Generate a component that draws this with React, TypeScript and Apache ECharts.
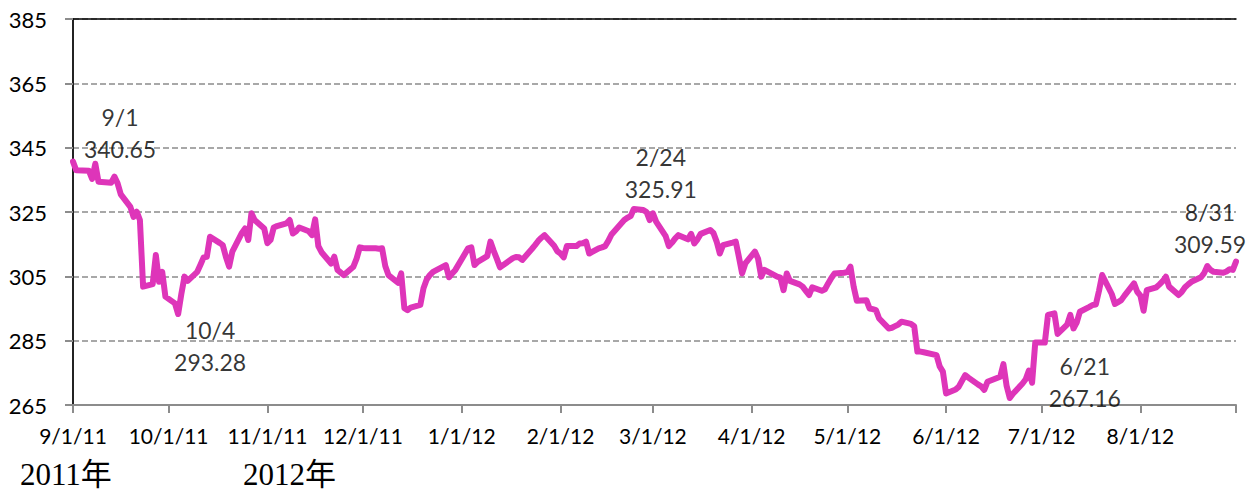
import React, { useEffect, useRef } from "react";
import * as echarts from "echarts";

// ---- data ----
const dates: string[] = [
  "2011-09-01","2011-09-02","2011-09-06","2011-09-07","2011-09-08","2011-09-09","2011-09-12","2011-09-13","2011-09-14","2011-09-15",
  "2011-09-16","2011-09-19","2011-09-20","2011-09-21","2011-09-22","2011-09-23","2011-09-26","2011-09-27","2011-09-28","2011-09-29",
  "2011-09-30","2011-10-03","2011-10-04","2011-10-05","2011-10-06","2011-10-07","2011-10-10","2011-10-11","2011-10-12","2011-10-13",
  "2011-10-14","2011-10-17","2011-10-18","2011-10-19","2011-10-20","2011-10-21","2011-10-24","2011-10-25","2011-10-26","2011-10-27",
  "2011-10-28","2011-10-31","2011-11-01","2011-11-02","2011-11-03","2011-11-04","2011-11-07","2011-11-08","2011-11-09","2011-11-10",
  "2011-11-11","2011-11-14","2011-11-15","2011-11-16","2011-11-17","2011-11-18","2011-11-21","2011-11-22","2011-11-23","2011-11-25",
  "2011-11-28","2011-11-29","2011-11-30","2011-12-01","2011-12-02","2011-12-05","2011-12-06","2011-12-07","2011-12-08","2011-12-09",
  "2011-12-12","2011-12-13","2011-12-14","2011-12-15","2011-12-16","2011-12-19","2011-12-20","2011-12-21","2011-12-22","2011-12-23",
  "2011-12-27","2011-12-28","2011-12-29","2011-12-30","2012-01-03","2012-01-04","2012-01-05","2012-01-06","2012-01-09","2012-01-10",
  "2012-01-11","2012-01-12","2012-01-13","2012-01-17","2012-01-18","2012-01-19","2012-01-20","2012-01-23","2012-01-24","2012-01-25",
  "2012-01-26","2012-01-27","2012-01-30","2012-01-31","2012-02-01","2012-02-02","2012-02-03","2012-02-06","2012-02-07","2012-02-08",
  "2012-02-09","2012-02-10","2012-02-13","2012-02-14","2012-02-15","2012-02-16","2012-02-17","2012-02-21","2012-02-22","2012-02-23",
  "2012-02-24","2012-02-27","2012-02-28","2012-02-29","2012-03-01","2012-03-02","2012-03-05","2012-03-06","2012-03-07","2012-03-08",
  "2012-03-09","2012-03-12","2012-03-13","2012-03-14","2012-03-15","2012-03-16","2012-03-19","2012-03-20","2012-03-21","2012-03-22",
  "2012-03-23","2012-03-26","2012-03-27","2012-03-28","2012-03-29","2012-03-30","2012-04-02","2012-04-03","2012-04-04","2012-04-05",
  "2012-04-09","2012-04-10","2012-04-11","2012-04-12","2012-04-13","2012-04-16","2012-04-17","2012-04-18","2012-04-19","2012-04-20",
  "2012-04-23","2012-04-24","2012-04-25","2012-04-26","2012-04-27","2012-04-30","2012-05-01","2012-05-02","2012-05-03","2012-05-04",
  "2012-05-07","2012-05-08","2012-05-09","2012-05-10","2012-05-11","2012-05-14","2012-05-15","2012-05-16","2012-05-17","2012-05-18",
  "2012-05-21","2012-05-22","2012-05-23","2012-05-24","2012-05-25","2012-05-29","2012-05-30","2012-05-31","2012-06-01","2012-06-04",
  "2012-06-05","2012-06-06","2012-06-07","2012-06-08","2012-06-11","2012-06-12","2012-06-13","2012-06-14","2012-06-15","2012-06-18",
  "2012-06-19","2012-06-20","2012-06-21","2012-06-22","2012-06-25","2012-06-26","2012-06-27","2012-06-28","2012-06-29","2012-07-02",
  "2012-07-03","2012-07-05","2012-07-06","2012-07-09","2012-07-10","2012-07-11","2012-07-12","2012-07-13","2012-07-16","2012-07-17",
  "2012-07-18","2012-07-19","2012-07-20","2012-07-23","2012-07-24","2012-07-25","2012-07-26","2012-07-27","2012-07-30","2012-07-31",
  "2012-08-01","2012-08-02","2012-08-03","2012-08-06","2012-08-07","2012-08-08","2012-08-09","2012-08-10","2012-08-13","2012-08-14",
  "2012-08-15","2012-08-16","2012-08-17","2012-08-20","2012-08-21","2012-08-22","2012-08-23","2012-08-24","2012-08-27","2012-08-28",
  "2012-08-29","2012-08-30","2012-08-31"
];

const values: number[] = [
  340.65,338.0,337.8,335.3,340.0,334.4,334.2,334.1,336.0,333.9,
  330.5,326.6,323.5,325.1,322.5,301.8,302.6,311.6,303.3,306.4,
  298.7,296.6,293.28,299.5,304.9,303.6,306.4,308.6,310.9,311.1,
  317.3,315.4,314.7,311.0,308.0,312.7,318.5,319.9,316.3,324.6,
  322.5,319.9,315.3,316.3,320.2,320.6,321.5,322.5,318.3,319.0,
  320.2,319.0,317.8,322.7,314.4,312.5,309.0,311.1,307.0,305.4,
  308.0,310.5,314.0,313.8,313.7,313.7,313.6,313.7,308.2,305.4,
  303.0,305.9,295.1,294.5,295.3,296.1,301.3,304.0,305.4,306.4,
  308.5,304.7,305.9,307.0,313.7,314.0,308.5,309.5,311.3,315.8,
  313.0,310.5,307.8,310.6,311.0,310.9,310.1,313.5,314.7,316.0,
  317.0,317.8,314.5,312.8,312.1,310.9,314.4,314.4,315.2,315.3,
  315.8,312.1,313.7,314.0,314.4,316.0,318.0,322.5,323.2,323.7,
  325.91,325.6,325.0,322.5,324.6,322.0,317.5,314.4,315.5,316.8,
  317.8,316.5,318.2,315.2,316.5,318.2,319.4,318.5,315.8,312.1,
  314.7,315.5,315.8,311.0,305.9,309.0,312.7,310.5,304.9,307.0,
  304.9,304.6,300.7,305.9,303.6,302.5,301.8,300.5,299.2,301.6,
  300.5,301.0,302.8,304.5,305.9,306.1,306.3,308.0,301.8,297.4,
  297.6,295.0,294.8,294.5,291.9,288.8,289.0,289.5,290.0,290.9,
  290.2,289.5,281.6,281.6,281.4,280.5,277.0,275.4,268.6,269.8,
  270.7,272.5,274.3,273.5,271.4,270.8,269.7,272.2,272.6,273.8,
  277.7,271.0,267.16,268.5,271.7,273.0,275.7,271.9,284.4,284.4,
  293.0,293.5,287.1,290.0,293.0,288.8,290.6,294.0,295.5,296.1,
  296.2,300.5,305.4,299.5,296.4,297.0,297.6,299.0,302.8,300.2,
  299.0,294.3,300.7,301.6,302.5,303.5,304.9,301.8,299.2,300.2,
  301.6,302.5,303.3,304.7,306.0,308.2,307.0,306.4,306.1,306.5,
  307.2,307.0,309.59
];

const monthTickDates: string[] = [
  "2011-09-01","2011-10-01","2011-11-01","2011-12-01","2012-01-01","2012-02-01",
  "2012-03-01","2012-04-01","2012-05-01","2012-06-01","2012-07-01","2012-08-01"
];
const monthTickLabels: string[] = [
  "9/1/11","10/1/11","11/1/11","12/1/11","1/1/12","2/1/12",
  "3/1/12","4/1/12","5/1/12","6/1/12","7/1/12","8/1/12"
];
const axisEndDate = "2012-08-31";

const annotationDates: string[] = ["2011-09-01","2011-10-04","2012-02-24","2012-06-21","2012-08-31"];
const annotationLabels: string[] = ["9/1","10/4","2/24","6/21","8/31"];
// label offsets (layout only)
const annotationOffsets: number[][] = [[47,-29],[32,32],[27,-36],[75,-16],[-26,-34]];

const yearLabels: string[] = ["2011年","2012年"];

const yMin = 265;
const yMax = 385;
const yStep = 20;

const DAY = 86400000;
const START = Date.UTC(2011, 8, 1);
function dayOf(s: string): number {
  const [y, m, d] = s.split("-").map(Number);
  return Math.round((Date.UTC(y, m - 1, d) - START) / DAY);
}

const FONT = "Lato, 'Open Sans', sans-serif";

export default function App() {
  const ref = useRef<HTMLDivElement>(null);
  useEffect(() => {
    if (!ref.current) return;
    const chart = echarts.init(ref.current, undefined, { renderer: "svg" });
    const tickDays = monthTickDates.map(dayOf);
    const endDay = dayOf(axisEndDate);
    const labelMap: Record<number, string> = {};
    tickDays.forEach((d, i) => (labelMap[d] = monthTickLabels[i]));

    const lineData = dates.map((d, i) => [dayOf(d), values[i]]);
    const annData = annotationDates.map((d, i) => ({
      value: [dayOf(d), values[dates.indexOf(d)]],
      label: { offset: annotationOffsets[i] },
    }));

    const option: any = {
      animation: false,
      backgroundColor: "#ffffff",
      grid: { left: 73, right: 23, top: 19, bottom: 88, containLabel: false },
      xAxis: [
        {
          type: "value",
          min: 0,
          max: endDay,
          axisLine: { show: true, onZero: false, lineStyle: { color: "#8c8c8c", width: 2 } },
          axisTick: {
            show: true,
            inside: false,
            length: 8,
            customValues: [...tickDays, endDay],
            lineStyle: { color: "#8c8c8c", width: 2 },
          },
          axisLabel: {
            show: true,
            customValues: tickDays,
            formatter: (v: number) => labelMap[v] ?? "",
            margin: 20,
            color: "#000",
            fontSize: 21,
            fontFamily: FONT,
          },
          splitLine: { show: false },
        },
        {
          type: "value",
          position: "top",
          min: 0,
          max: endDay,
          axisLine: { show: true, lineStyle: { color: "#000", width: 1.5 } },
          axisTick: { show: false },
          axisLabel: { show: false },
          splitLine: { show: false },
        },
      ],
      yAxis: [
        {
          type: "value",
          min: yMin,
          max: yMax,
          interval: yStep,
          axisLine: { show: true, lineStyle: { color: "#8c8c8c", width: 2 } },
          axisTick: { show: true, inside: false, length: 8, lineStyle: { color: "#8c8c8c", width: 2 } },
          axisLabel: { margin: 26, color: "#000", fontSize: 22, fontFamily: FONT },
          splitLine: { show: true, lineStyle: { color: "#8c8c8c", width: 1.5, type: [6, 3] } },
        },
        {
          type: "value",
          position: "right",
          min: yMin,
          max: yMax,
          interval: yStep,
          axisLine: { show: true, lineStyle: { color: "#000", width: 1.5 } },
          axisTick: { show: false },
          axisLabel: { show: false },
          splitLine: { show: false },
        },
      ],
      series: [
        {
          type: "line",
          data: lineData,
          showSymbol: false,
          symbol: "none",
          lineStyle: { color: "#DE35B9", width: 6, join: "round", cap: "round" },
          z: 3,
        },
        {
          type: "scatter",
          data: annData,
          symbolSize: 1,
          itemStyle: { color: "rgba(0,0,0,0)" },
          label: {
            show: true,
            position: "inside",
            align: "center",
            verticalAlign: "middle",
            color: "#000",
            textBorderWidth: 0,
            fontSize: 23,
            lineHeight: 32,
            fontFamily: FONT,
            formatter: (p: any) =>
              `${annotationLabels[p.dataIndex]}\n${Number(p.value[1]).toFixed(2)}`,
          },
          z: 4,
        },
      ],
      graphic: [
        {
          type: "text",
          left: 20,
          top: 459,
          style: { text: yearLabels[0], fontSize: 31, fill: "#000", fontFamily: "'Liberation Serif', 'Noto Sans CJK SC', serif" },
        },
        {
          type: "text",
          left: 243,
          top: 459,
          style: { text: yearLabels[1], fontSize: 31, fill: "#000", fontFamily: "'Liberation Serif', 'Noto Sans CJK SC', serif" },
        },
      ],
    };
    chart.setOption(option);
    return () => chart.dispose();
  }, []);
  return (
    <div
      ref={ref}
      style={{ position: "fixed", left: 0, top: 0, width: "1259px", height: "493px", background: "#fff" }}
    />
  );
}
